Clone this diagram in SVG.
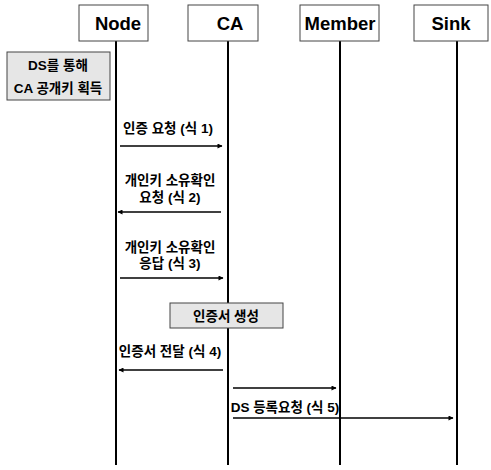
<svg xmlns="http://www.w3.org/2000/svg" width="491" height="470" viewBox="0 0 491 470">
<style>
.hdr{fill:#fff;stroke:#444;stroke-width:1}
.ht{font-family:"Liberation Sans","Noto Sans CJK KR",sans-serif;font-weight:bold;font-size:18.5px;fill:#000;text-anchor:middle}
.life{stroke:#000;stroke-width:2}
.note{fill:#e6e6e6;stroke:#444;stroke-width:1}
.t{font-family:"Liberation Sans","Noto Sans CJK KR",sans-serif;font-weight:bold;font-size:13.5px;fill:#000;text-anchor:middle}
.msg{stroke:#000;stroke-width:1.5;fill:none;marker-end:url(#ah)}
</style>
<defs>
<marker id="ah" viewBox="0 0 10 10" refX="9" refY="5" markerWidth="6" markerHeight="5" orient="auto" markerUnits="userSpaceOnUse">
<path d="M0,0 L10,5 L0,10 z" fill="#000"/>
</marker>
</defs>
<rect width="491" height="470" fill="#fff"/>
<g id="lifelines">
<line class="life" x1="116" y1="41" x2="116" y2="465"/>
<line class="life" x1="228" y1="41" x2="228" y2="465"/>
<line class="life" x1="340" y1="41" x2="340" y2="465"/>
<line class="life" x1="457" y1="41" x2="457" y2="465"/>
</g>
<g id="node-Node"><rect class="hdr" x="79" y="5" width="69" height="36"/><text class="ht" x="118" y="30">Node</text></g>
<g id="node-CA"><rect class="hdr" x="188" y="5" width="70" height="36"/><text class="ht" x="230" y="30">CA</text></g>
<g id="node-Member"><rect class="hdr" x="300" y="5" width="79" height="36"/><text class="ht" x="340" y="30">Member</text></g>
<g id="node-Sink"><rect class="hdr" x="414" y="5" width="74" height="36"/><text class="ht" x="451" y="30">Sink</text></g>
<g id="note-ds"><rect class="note" x="7" y="52" width="103" height="48"/><text class="t" x="58" y="70">DS를 통해</text><text class="t" x="58" y="93">CA 공개키 획득</text></g>
<g id="note-cert"><rect class="note" x="170" y="303" width="113" height="25"/><text class="t" x="226" y="321">인증서 생성</text></g>
<g id="connectors">
<line class="msg" x1="120" y1="146" x2="222" y2="146"/>
<line class="msg" x1="221" y1="212" x2="118" y2="212"/>
<line class="msg" x1="120" y1="278" x2="223" y2="278"/>
<line class="msg" x1="223" y1="370" x2="119" y2="370"/>
<line class="msg" x1="233" y1="388" x2="336" y2="388"/>
<line class="msg" x1="233" y1="418" x2="453" y2="418"/>
</g>
<g id="labels">
<text class="t" x="168" y="133">인증 요청 (식 1)</text>
<text class="t" x="170" y="185">개인키 소유확인</text>
<text class="t" x="170" y="202">요청 (식 2)</text>
<text class="t" x="170" y="252">개인키 소유확인</text>
<text class="t" x="170" y="268">응답 (식 3)</text>
<text class="t" x="170" y="356">인증서 전달 (식 4)</text>
<text class="t" x="285" y="412">DS 등록요청 (식 5)</text>
</g>
</svg>
